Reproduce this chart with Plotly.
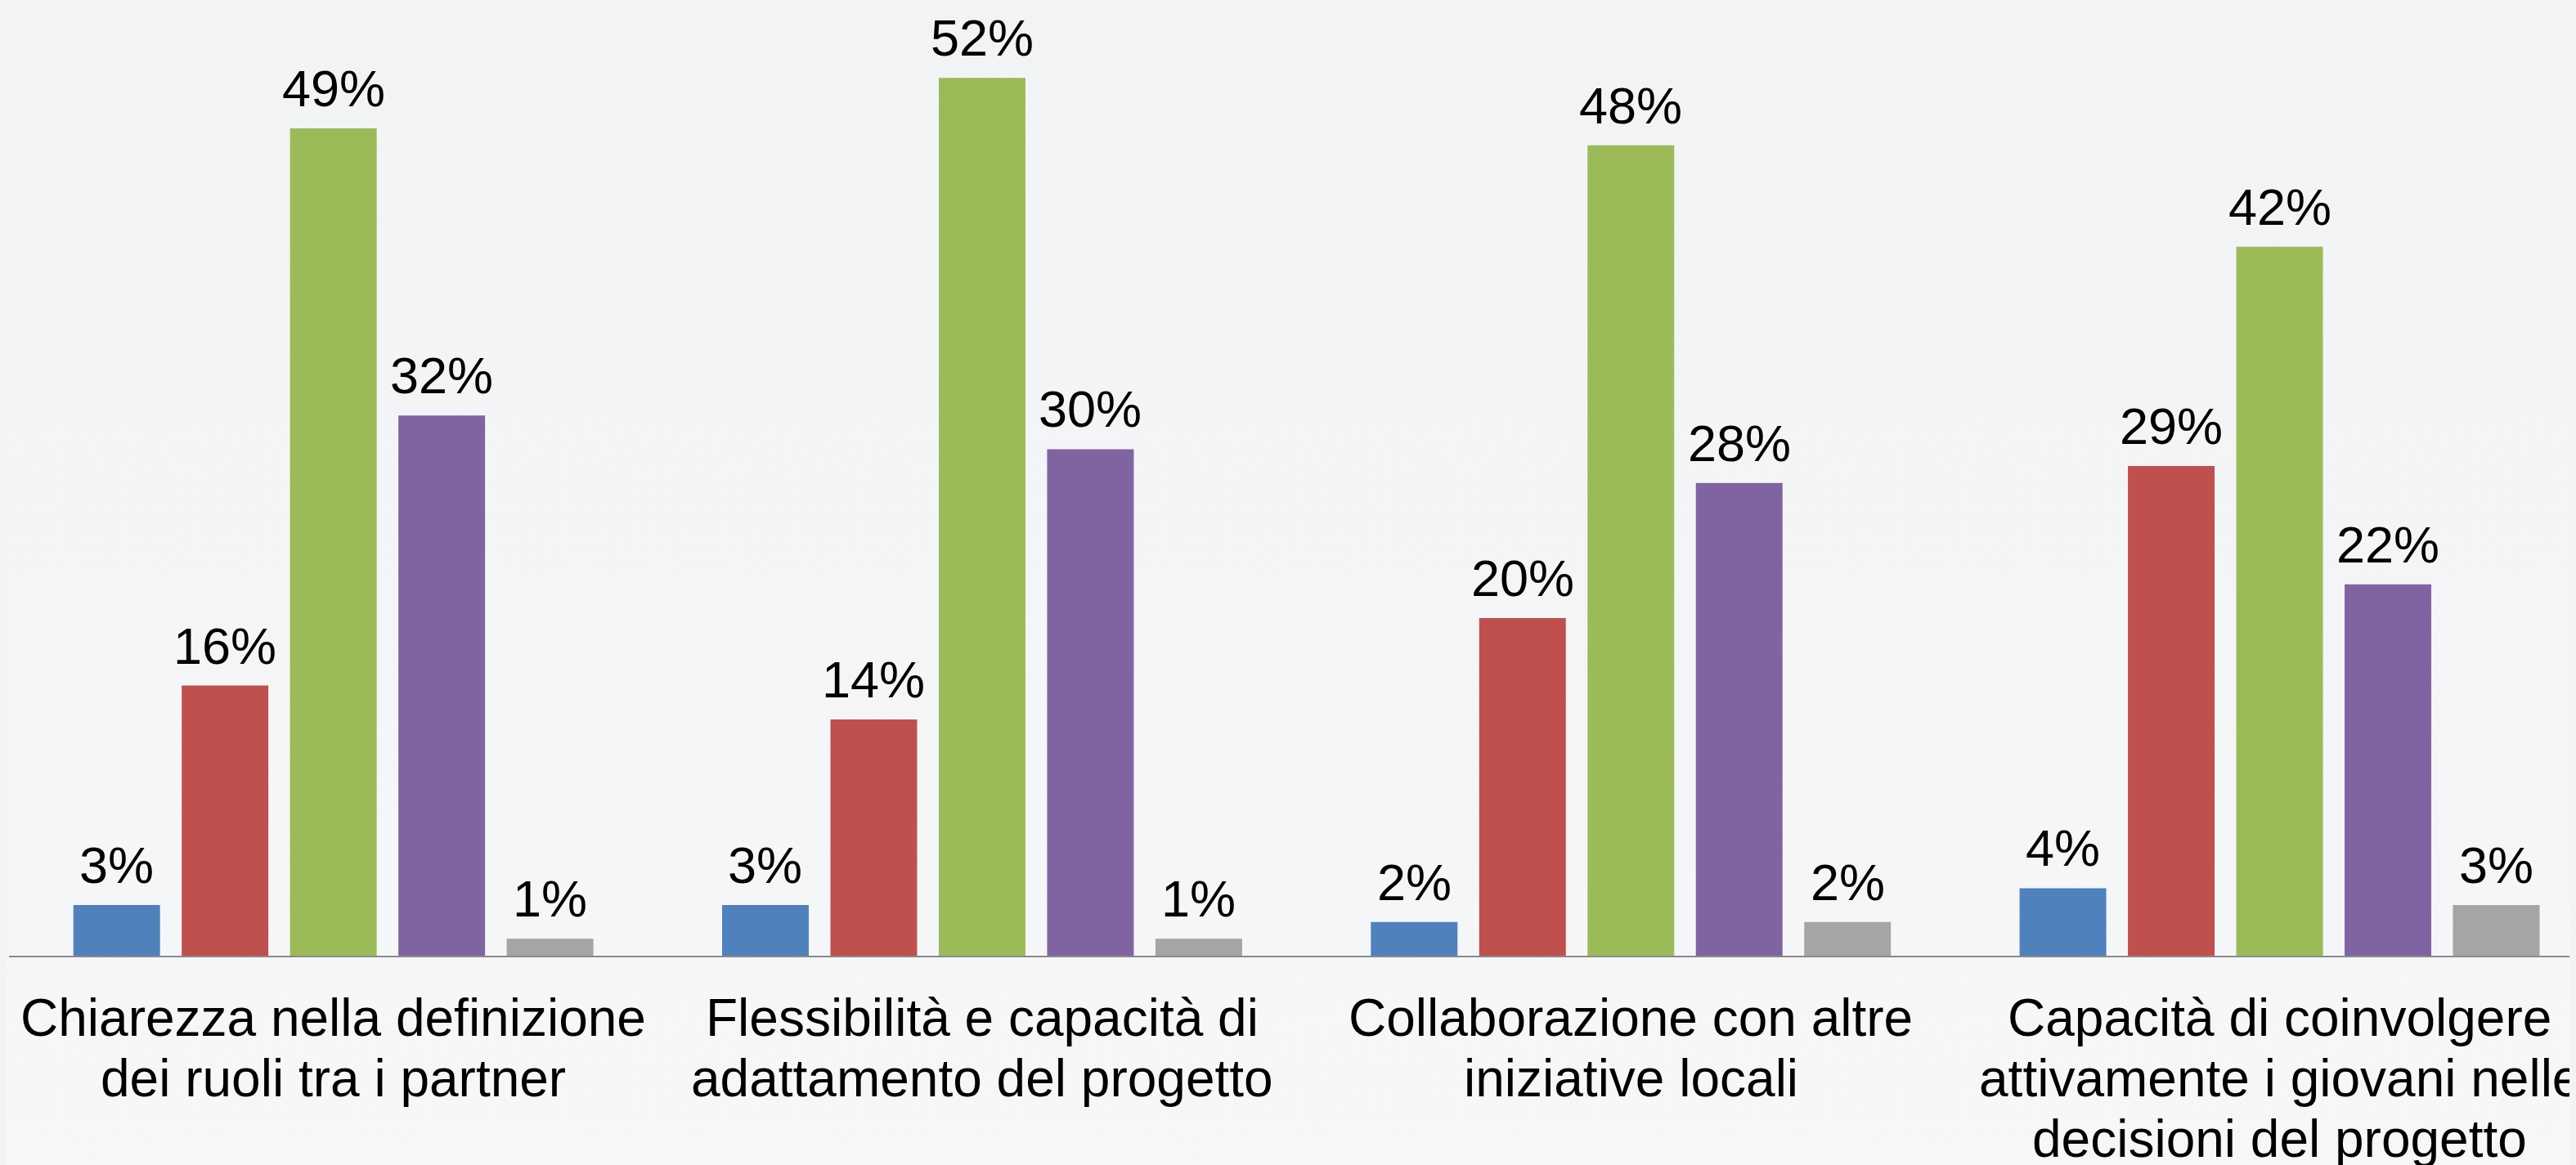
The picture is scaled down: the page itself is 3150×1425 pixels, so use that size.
import base64
import plotly.graph_objects as go

categories = [
    "Chiarezza nella definizione<br>dei ruoli tra i partner",
    "Flessibilità e capacità di<br>adattamento del progetto",
    "Collaborazione con altre<br>iniziative locali",
    "Capacità di coinvolgere<br>attivamente i giovani nelle<br>decisioni del progetto",
]
series_names = ["Per niente", "Poco", "Abbastanza", "Molto", "Non so"]
series_values = [
    [3, 3, 2, 4],
    [16, 14, 20, 29],
    [49, 52, 48, 42],
    [32, 30, 28, 22],
    [1, 1, 2, 3],
]
series_colors = ["#4F81BD", "#C0504D", "#9BBB59", "#8064A2", "#A5A5A5"]

FONT = "Arial, 'Liberation Sans', sans-serif"
W, H = 3150, 1425
OFF = 8                      # page body margin
BASE = 1169.5 - OFF          # baseline y inside the figure
ML = 11 - OFF
MB = H - BASE
PX_PER_PCT = 20.66
BG_TOP, BG_BOTTOM = "#f2f3f5", "#f6f7f9"
BARGAP, BARGROUPGAP = 0.165, 0.2
CAT_PX = 793.3
SLOT_PX = CAT_PX * (1 - BARGAP) / len(series_names)

fig = go.Figure()
for name, vals, col in zip(series_names, series_values, series_colors):
    fig.add_trace(go.Bar(
        x=categories, y=vals, name=name,
        marker=dict(color=col, line=dict(width=0)),
        cliponaxis=False,
    ))

annotations = []
# value labels above each bar
n = len(series_names)
for j, vals in enumerate(series_values):
    for cat, v in zip(categories, vals):
        annotations.append(dict(
            x=cat, xref="x", y=v, yref="y",
            xanchor="center", yanchor="bottom",
            xshift=(j - (n - 1) / 2) * SLOT_PX, yshift=12,
            text=f"{v}%", showarrow=False,
            font=dict(family=FONT, size=63, color="#000000"),
        ))

# category labels, one annotation per line (tight line spacing)
for cat in categories:
    for k, line in enumerate(cat.split("<br>")):
        annotations.append(dict(
            x=cat, xref="x", y=0, yref="paper",
            yanchor="top", xanchor="center",
            yshift=-38 - 74 * k,
            text=line, showarrow=False,
            font=dict(family=FONT, size=64, color="#000000"),
        ))

svg = (
    '<svg xmlns="http://www.w3.org/2000/svg" width="100" height="100" preserveAspectRatio="none">'
    '<defs><linearGradient id="g" x1="0" y1="0" x2="0" y2="1">'
    f'<stop offset="0" stop-color="{BG_TOP}"/><stop offset="1" stop-color="{BG_BOTTOM}"/>'
    '</linearGradient></defs><rect width="100" height="100" fill="url(#g)"/></svg>'
)
bg_src = "data:image/svg+xml;base64," + base64.b64encode(svg.encode()).decode()

plot_w = W - ML
fig.update_layout(
    width=W, height=H,
    margin=dict(l=ML, r=0, t=0, b=MB, pad=0),
    paper_bgcolor="#f4f5f7",
    plot_bgcolor="rgba(0,0,0,0)",
    barmode="group",
    bargap=BARGAP,
    bargroupgap=BARGROUPGAP,
    showlegend=False,
    annotations=annotations,
    images=[dict(
        source=bg_src, xref="paper", yref="paper",
        x=-ML / (W - ML), y=1, xanchor="left", yanchor="top",
        sizex=W / (W - ML), sizey=H / (H - MB),
        sizing="stretch", layer="below",
    )],
    xaxis=dict(
        type="category",
        range=[-0.5, -0.5 + plot_w / CAT_PX],
        showticklabels=False, ticks="",
        showgrid=False, zeroline=False,
        showline=True, linecolor="#8a8a8a", linewidth=2,
    ),
    yaxis=dict(
        range=[0, BASE / PX_PER_PCT], visible=False,
        showgrid=False, zeroline=False,
    ),
)

fig.write_html(
    "out.html",
    post_script=f"document.body.style.background='{BG_TOP}';"
                f"document.documentElement.style.background='{BG_TOP}';",
)
